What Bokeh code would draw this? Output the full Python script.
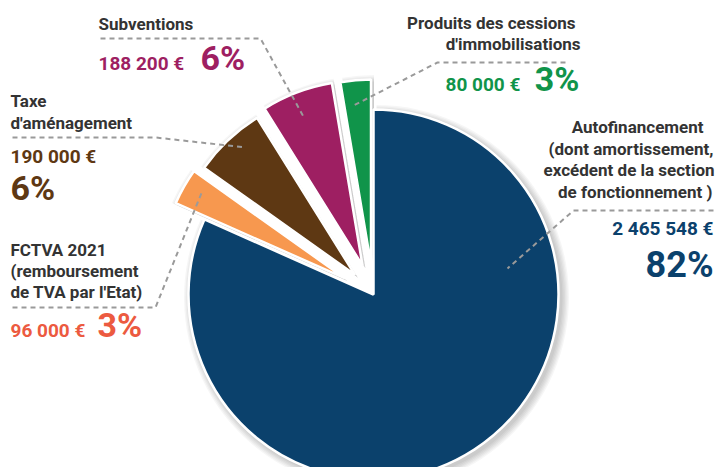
import numpy as np
from bokeh.plotting import figure
from bokeh.models import Range1d
from bokeh.embed import file_html
from bokeh.resources import INLINE
from bokeh.core.properties import value

# ---- data ----
categories = ["Autofinancement", "FCTVA 2021", "Taxe d'aménagement", "Subventions",
              "Produits des cessions d'immobilisations"]
amounts = [2465548, 96000, 190000, 188200, 80000]
amount_labels = ["2 465 548 €", "96 000 €", "190 000 €", "188 200 €", "80 000 €"]
percent_labels = ["82%", "3%", "6%", "6%", "3%"]
slice_colors = ["#0b416c", "#f7984f", "#5e3813", "#9e1f62", "#10944a"]
text_colors = ["#0b416c", "#ec5a40", "#5e3813", "#9e1f62", "#10944a"]
explode = [0, 33, 27, 31, 30]

W, H = 715, 467
REF_H = 475


def Y(yref):
    return REF_H - yref


p = figure(width=W, height=H, x_range=Range1d(0, W), y_range=Range1d(REF_H - H, REF_H),
           output_backend="svg", toolbar_location=None, min_border=0,
           x_axis_type=None, y_axis_type=None)
p.grid.visible = False
p.outline_line_color = None
p.background_fill_color = "white"

cx, cy, R = 373, Y(294), 185
vals = np.array(amounts, dtype=float)
frac = vals / vals.sum()
ends = np.cumsum(frac) * 360.0
starts = ends - frac * 360.0
mids = (starts + ends) / 2

xs = cx + np.array(explode) * np.sin(np.radians(mids))
ys = cy + np.array(explode) * np.cos(np.radians(mids))
a_start = np.radians(90 - ends)
a_end = np.radians(90 - starts)

# soft shadow
for k in range(6):
    p.wedge(x=xs + 3, y=ys - 3, radius=R + 1 + k * 1.3, start_angle=a_start, end_angle=a_end,
            fill_color="black", fill_alpha=0.035, line_color=None)

p.wedge(x=xs, y=ys, radius=R, start_angle=a_start, end_angle=a_end,
        fill_color=slice_colors, line_color="white", line_width=2.5)

# leader lines (dashed)
leaders = [
    [(713, 210), (573, 210), (507, 268)],
    [(12, 307), (155, 307), (202, 190)],
    [(12, 137), (155, 137), (245, 147)],
    [(100, 38), (260, 38), (304, 118)],
    [(565, 62), (437, 62), (353, 105)],
]
for pts in leaders:
    p.line([q[0] for q in pts], [Y(q[1]) for q in pts], line_color="#9a9a9a",
           line_width=2, line_dash="5 4")

FONT = value("Roboto")
DARK = "#333333"


def txt(x, yb, s, color, size, align="left"):
    px = float(size.replace("px", ""))
    p.text(x=[x], y=[Y(yb - 0.4 * px)], text=[s], text_color=color, text_font=FONT,
           text_font_style="bold", text_font_size=size, text_align=align,
           text_baseline="alphabetic")


LS = "17px"
VS = "19px"
PS = "34px"

# Autofinancement
for s, xr, yb in [("Autofinancement", 703, 133), ("(dont amortissement,", 713, 155),
                  ("excédent de la section", 714, 176), ("de fonctionnement )", 712, 198)]:
    txt(xr, yb, s, DARK, LS, "right")
txt(713, 236, amount_labels[0], text_colors[0], VS, "right")
txt(713, 279, percent_labels[0], text_colors[0], "36px", "right")

# FCTVA
for s, yb in [("FCTVA 2021", 256), ("(remboursement", 277), ("de TVA par l'Etat)", 298)]:
    txt(10, yb, s, DARK, LS)
txt(10, 338, amount_labels[1], text_colors[1], VS)
txt(97, 338, percent_labels[1], text_colors[1], PS)

# Taxe
txt(10, 107, "Taxe", DARK, LS)
txt(10, 129, "d'aménagement", DARK, LS)
txt(10, 164, amount_labels[2], text_colors[2], VS)
txt(10, 201, percent_labels[2], text_colors[2], PS)

# Subventions
txt(98, 30, "Subventions", DARK, LS)
txt(98, 71, amount_labels[3], text_colors[3], VS)
txt(200, 71, percent_labels[3], text_colors[3], PS)

# Produits
txt(575, 29, "Produits des cessions", DARK, LS, "right")
txt(580, 50, "d'immobilisations", DARK, LS, "right")
txt(445, 92, amount_labels[4], text_colors[4], VS)
txt(579, 92, percent_labels[4], text_colors[4], PS, "right")

open("out.html", "w").write(file_html(p, INLINE))
